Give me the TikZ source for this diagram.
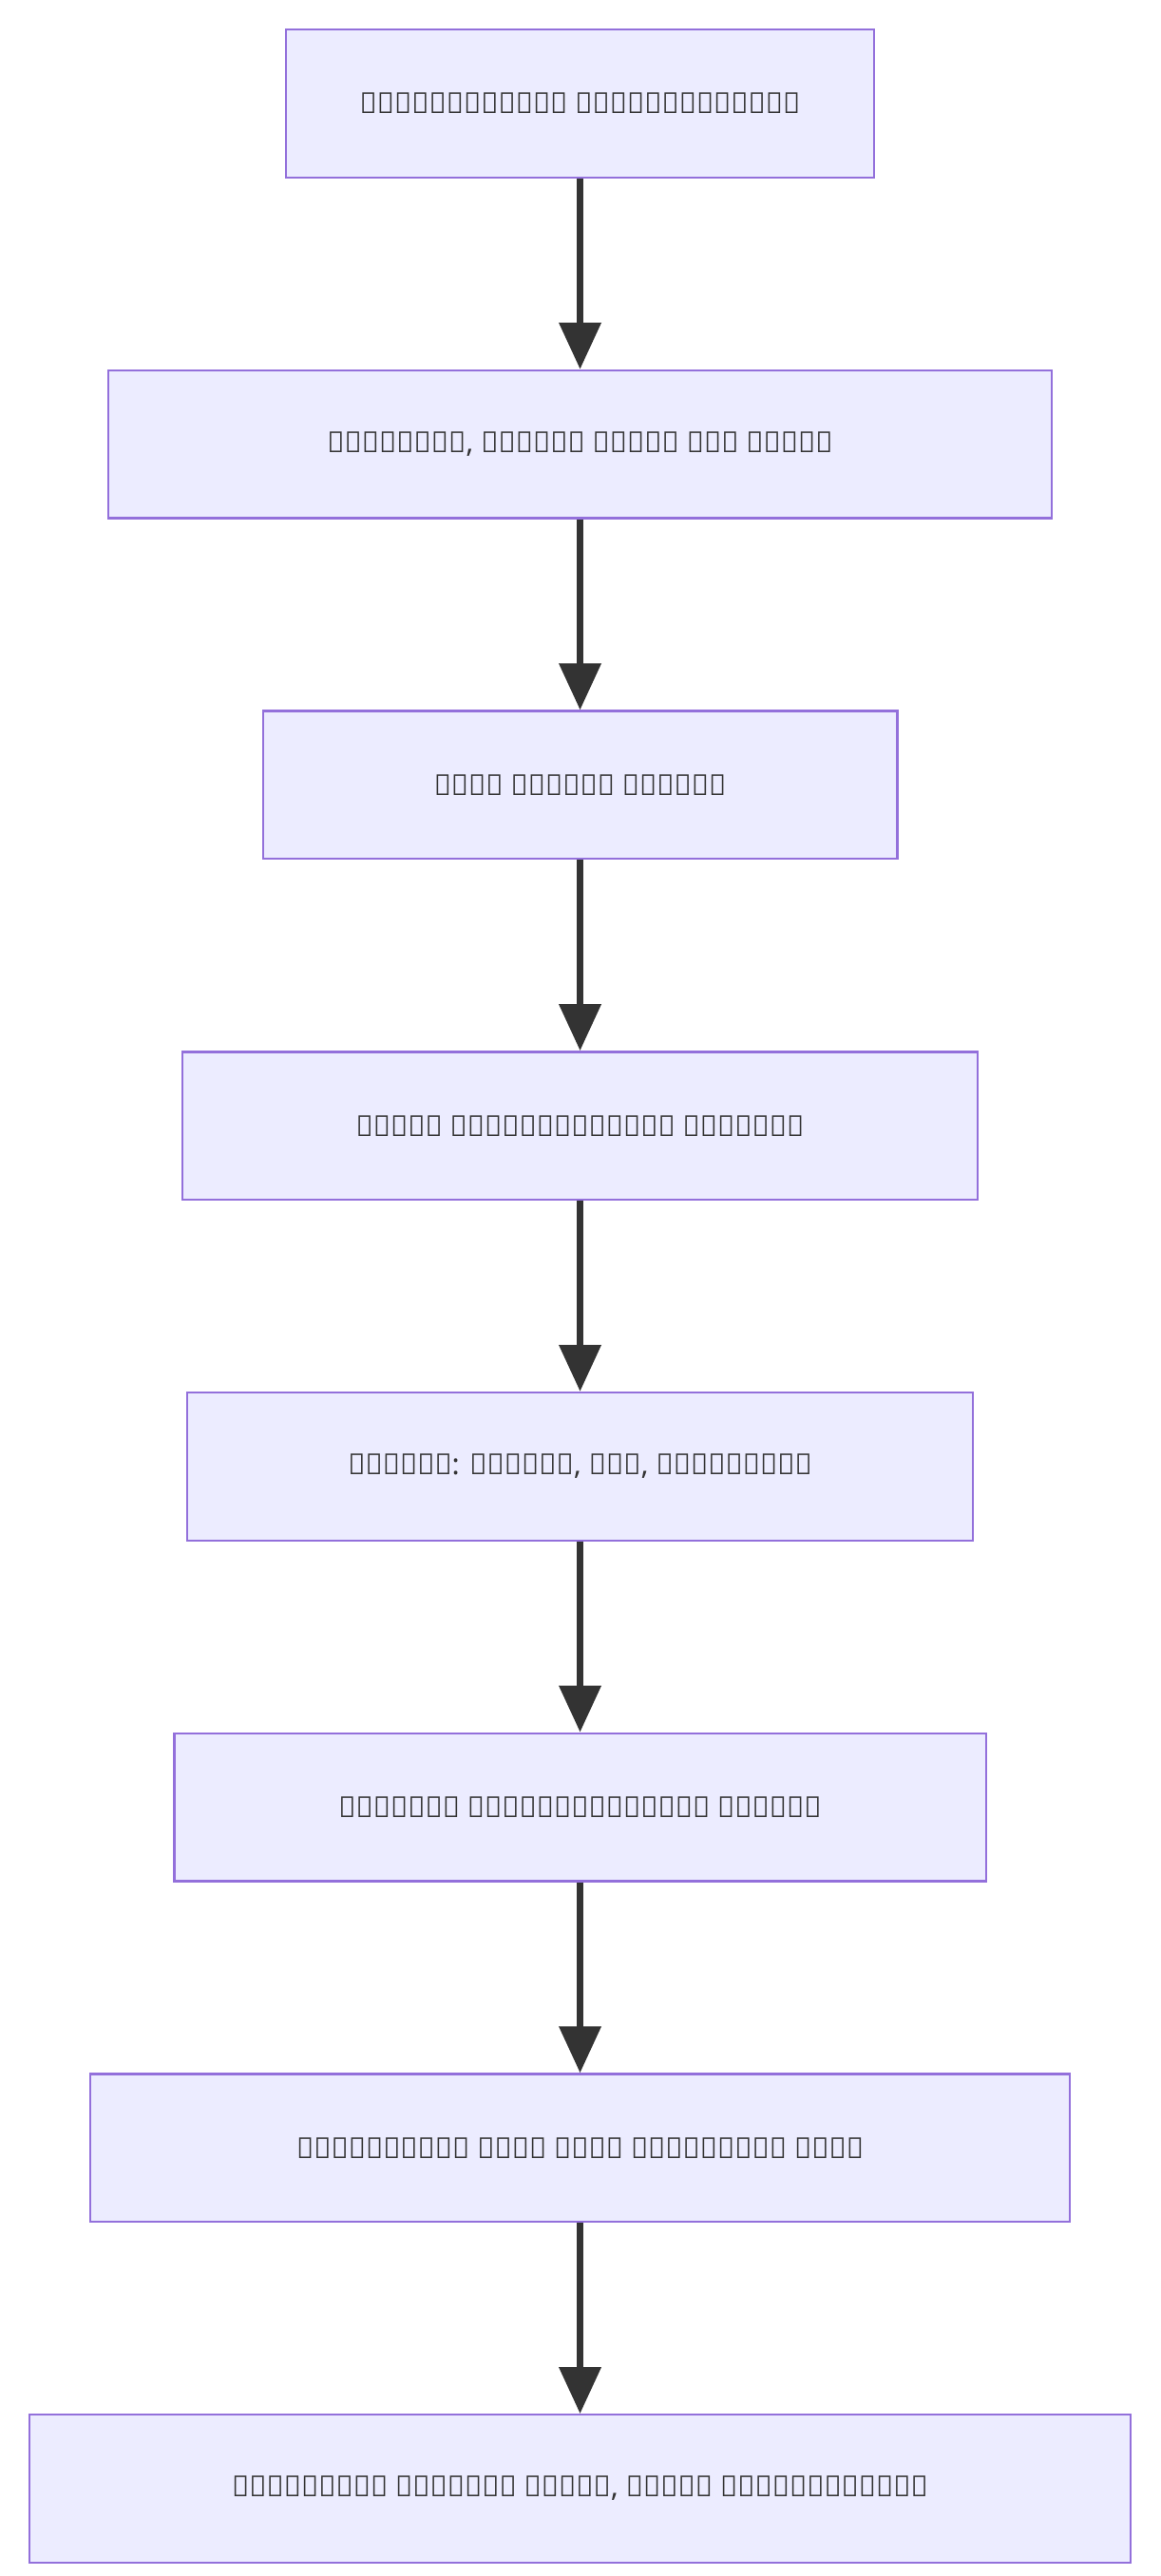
\documentclass[tikz,border=0pt]{standalone}
\usepackage{fontspec}
\setmainfont{Noto Sans}
\usepackage{xcolor}
\usetikzlibrary{arrows.meta, positioning}
\definecolor{boxfill}{HTML}{ECECFF}
\definecolor{boxline}{HTML}{9370DB}
\definecolor{arrowcol}{HTML}{333333}
\begin{document}
\begin{tikzpicture}[
    node distance=3.48cm,
    box/.style={draw=boxline, fill=boxfill, line width=1.2pt, minimum height=2.7cm, inner sep=2pt, align=center, font=\fontsize{15}{18}\selectfont, text=arrowcol},
    arrow/.style={-{Triangle[length=0.85cm, width=0.75cm]}, line width=3.2pt, draw=arrowcol}
]
    \useasboundingbox (0,0) rectangle (21.18,-47.04);
    \node[box, minimum width=10.74cm] at (10.59,-1.89) (record) {ಶ್ರೇಯಸ್ಸುಳ್ಳ ಧ್ವನಿಮುದ್ರಿಕೆ};
    \node[box, minimum width=17.22cm, below=of record] (title) {ಶೀರ್ಷಿಕೆ, ಕಲಾವಿದ ಮತ್ತು ಮೂಲ ಕೊಂಡಿ};
    \node[box, minimum width=11.58cm, below=of title] (time) {ಸಮಯದ ಗುರುತು ಸೇರಿಸಿ};
    \node[box, minimum width=14.52cm, below=of time] (melody) {ಕೇಳಿದ ಸ್ವರಚಲನೆಯನ್ನು ಬರೆಯಿರಿ};
    \node[box, minimum width=14.34cm, below=of melody] (certainty) {ಖಚಿತತೆ: ಕೇಳಿದೆ, ಊಹೆ, ತಿಳಿದಿಲ್ಲ};
    \node[box, minimum width=14.82cm, below=of certainty] (compare) {ಪ್ರಕಟಿತ ಆವೃತ್ತಿಯೊಂದಿಗೆ ಹೋಲಿಸಿ};
    \node[box, minimum width=17.88cm, below=of compare] (guru) {ಅಗತ್ಯವಾದರೆ ಗುರು ಅಥವಾ ತಜ್ಞರನ್ನು ಕೇಳಿ};
    \node[box, minimum width=20.1cm, below=of guru] (draft) {ತಾತ್ಕಾಲಿಕ ಟಿಪ್ಪಣಿ ಇರಿಸಿ, ಅಂತಿಮ ಸ್ವರಲಿಪಿಯಲ್ಲ};
    \draw[arrow] (record) -- (title);
    \draw[arrow] (title) -- (time);
    \draw[arrow] (time) -- (melody);
    \draw[arrow] (melody) -- (certainty);
    \draw[arrow] (certainty) -- (compare);
    \draw[arrow] (compare) -- (guru);
    \draw[arrow] (guru) -- (draft);
\end{tikzpicture}
\end{document}
